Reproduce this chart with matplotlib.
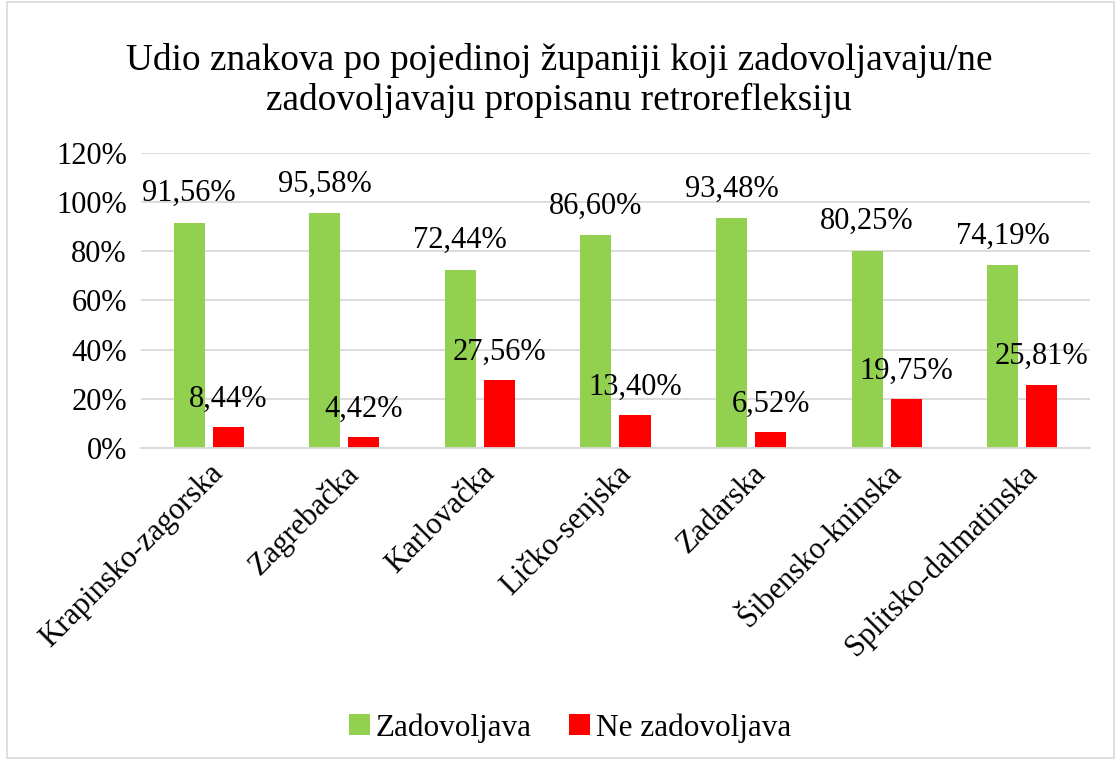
import matplotlib.pyplot as plt
import numpy as np
from matplotlib.patches import Rectangle

plt.rcParams['font.family'] = ['Liberation Serif', 'DejaVu Serif']

zupanije = ['Krapinsko-zagorska', 'Zagrebačka', 'Karlovačka', 'Ličko-senjska',
            'Zadarska', 'Šibensko-kninska', 'Splitsko-dalmatinska']
zadovoljava = [91.56, 95.58, 72.44, 86.60, 93.48, 80.25, 74.19]
ne_zadovoljava = [8.44, 4.42, 27.56, 13.40, 6.52, 19.75, 25.81]
yticks = [0, 20, 40, 60, 80, 100, 120]

green = '#92d050'
red = '#ff0000'

fig = plt.figure(figsize=(11.18, 7.6), dpi=100)
ax = fig.add_axes([0.126, 0.4105, 0.849, 0.3885])

x = np.arange(len(zupanije))
w = 0.229
off = 0.144
ax.bar(x - off, zadovoljava, w, color=green, label='Zadovoljava', zorder=2)
ax.bar(x + off, ne_zadovoljava, w, color=red, label='Ne zadovoljava', zorder=2)

def fmt(v):
    return f'{v:.2f}%'.replace('.', ',')

for xi, a, b in zip(x, zadovoljava, ne_zadovoljava):
    ax.annotate(fmt(a), (xi - off, a), xytext=(0, 29), textcoords='offset pixels',
                ha='center', va='center', fontsize=22)
    ax.annotate(fmt(b), (xi + off, b), xytext=(0, 28), textcoords='offset pixels',
                ha='center', va='center', fontsize=22)

ax.set_xlim(-0.5, len(zupanije) - 0.5)
ax.set_ylim(0, 120)
ax.set_yticks(yticks)
ax.set_yticklabels([f'{t}%' for t in yticks], fontsize=22)
ax.set_xticks(x)
ax.set_xticklabels(zupanije, rotation=45, ha='right', rotation_mode='anchor', fontsize=22)
ax.tick_params(length=0, pad=10)
ax.tick_params(axis='x', pad=8)
ax.yaxis.grid(True, color='#d9d9d9', linewidth=1.3, zorder=0)
ax.set_axisbelow(True)
for s in ['top', 'right', 'left']:
    ax.spines[s].set_visible(False)
ax.spines['bottom'].set_color('#d9d9d9')
ax.spines['bottom'].set_linewidth(1.3)

fig.text(0.5, 0.894, 'Udio znakova po pojedinoj županiji koji zadovoljavaju/ne\nzadovoljavaju propisanu retrorefleksiju',
         ha='center', va='center', fontsize=26.8, linespacing=1.15)

fig.legend(loc='center', bbox_to_anchor=(0.51, 0.042), ncol=2, frameon=False,
           fontsize=22.5, handlelength=0.65, handleheight=0.65, handletextpad=0.2,
           columnspacing=1.2)

fig.patches.append(Rectangle((0.006, 0.002), 0.99, 0.996, transform=fig.transFigure,
                             fill=False, edgecolor='#d9d9d9', linewidth=1.2))

fig.savefig('out.png', dpi=100)
